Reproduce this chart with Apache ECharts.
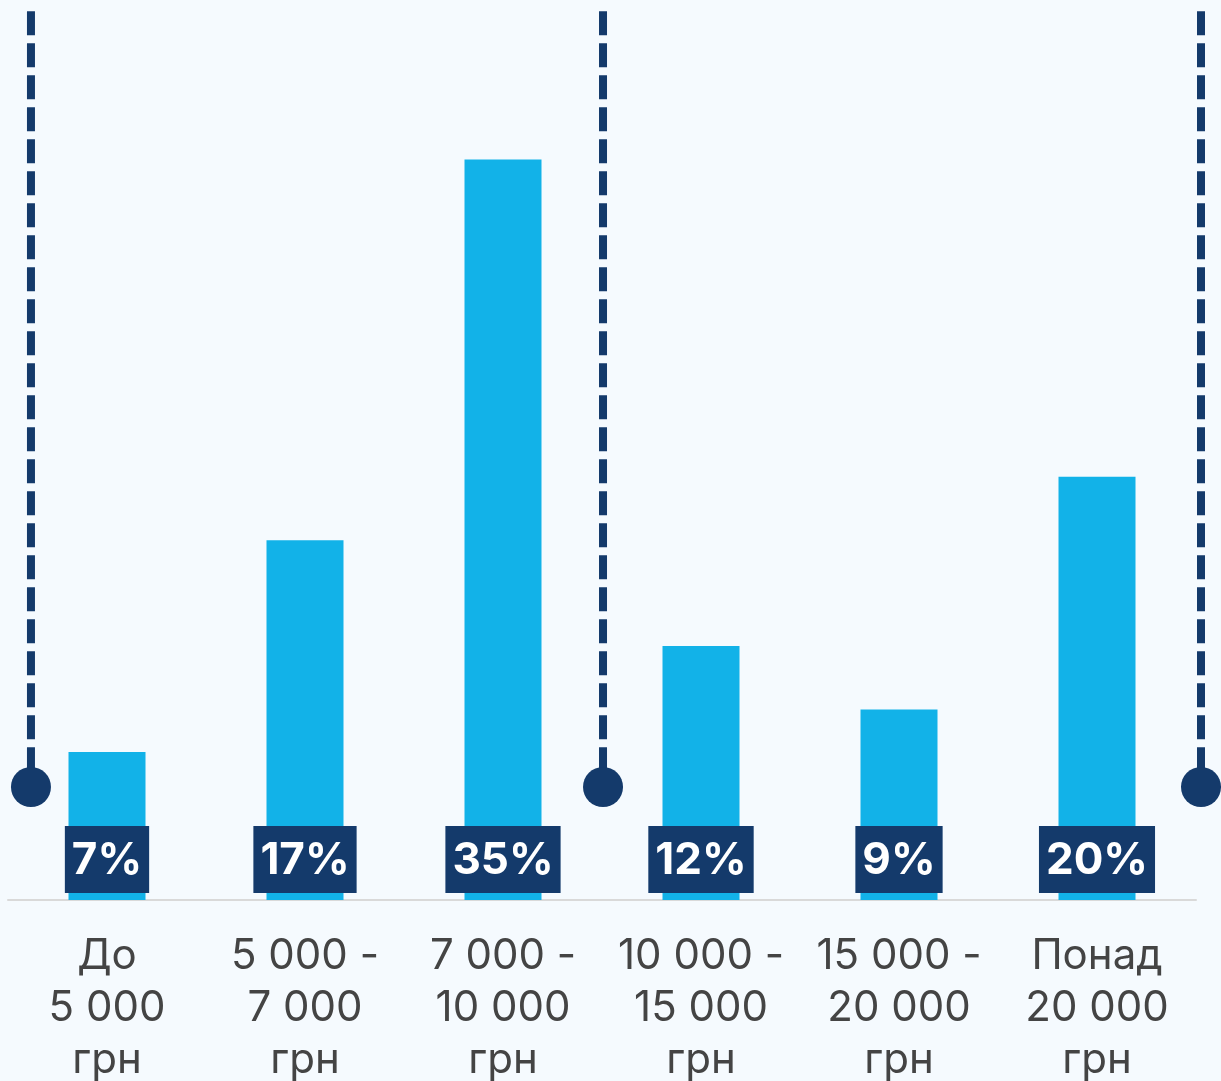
<!DOCTYPE html>
<html>
<head>
<meta charset="utf-8">
<script src="https://cdn.jsdelivr.net/npm/echarts@6/dist/echarts.min.js"></script>
<style>
html,body{margin:0;padding:0;background:#f5fafe;}
#chart{width:1221px;height:1081px;}
</style>
</head>
<body>
<div id="chart"></div>
<script>
const categories = ['До\n5 000\nгрн', '5 000 -\n7 000\nгрн', '7 000 -\n10 000\nгрн', '10 000 -\n15 000\nгрн', '15 000 -\n20 000\nгрн', 'Понад\n20 000\nгрн'];
const values = [7, 17, 35, 12, 9, 20];
// divider markers, in category units (category centres at 0..5)
const dividerX = [-0.384, 2.505, 5.525];
const dividerTop = 42;
const dividerBottom = 5.34;

const navy = '#143a6b';
const series = [{
  type: 'bar',
  data: values,
  barWidth: 77,
  itemStyle: { color: '#12b2e8' },
  label: {
    show: true,
    position: 'insideBottom',
    distance: 7,
    formatter: '{c}%',
    color: '#ffffff',
    fontFamily: 'Inter',
    fontWeight: 'bold',
    fontSize: 44,
    lineHeight: 49,
    backgroundColor: navy,
    padding: [10, 7, 8, 7]
  },
  silent: true,
  z: 2
}];
dividerX.forEach(function (x) {
  series.push({
    type: 'line',
    xAxisIndex: 1,
    yAxisIndex: 1,
    data: [[x, dividerTop], [x, dividerBottom]],
    symbol: 'none',
    clip: false,
    lineStyle: { color: navy, width: 8, type: [24, 8] },
    silent: true,
    z: 3
  });
  series.push({
    type: 'scatter',
    xAxisIndex: 1,
    yAxisIndex: 1,
    data: [[x, dividerBottom]],
    symbolSize: 40,
    clip: false,
    itemStyle: { color: navy, opacity: 1 },
    silent: true,
    z: 4
  });
});

const chart = echarts.init(document.getElementById('chart'));
chart.setOption({
  backgroundColor: '#f5fafe',
  animation: false,
  grid: [
    { left: 8, right: 25, top: 11.3, bottom: 181, outerBoundsMode: 'none', containLabel: false },
    { left: 0, right: 0, top: 11.3, bottom: 181, outerBoundsMode: 'none', containLabel: false }
  ],
  xAxis: [{
    type: 'category',
    gridIndex: 0,
    data: categories,
    axisTick: { show: false },
    axisLine: { lineStyle: { color: '#d9d9d9', width: 2 } },
    axisLabel: {
      interval: 0,
      margin: 30,
      color: '#444444',
      fontFamily: 'Inter',
      fontSize: 42,
      lineHeight: 52
    }
  }, {
    type: 'value',
    gridIndex: 1,
    min: -0.5404,
    max: 5.626,
    show: false
  }],
  yAxis: [{
    type: 'value',
    gridIndex: 0,
    min: 0,
    max: 42,
    show: false,
    splitLine: { show: false }
  }, {
    type: 'value',
    gridIndex: 1,
    min: 0,
    max: 42,
    show: false,
    splitLine: { show: false }
  }],
  series: series
});
</script>
</body>
</html>
